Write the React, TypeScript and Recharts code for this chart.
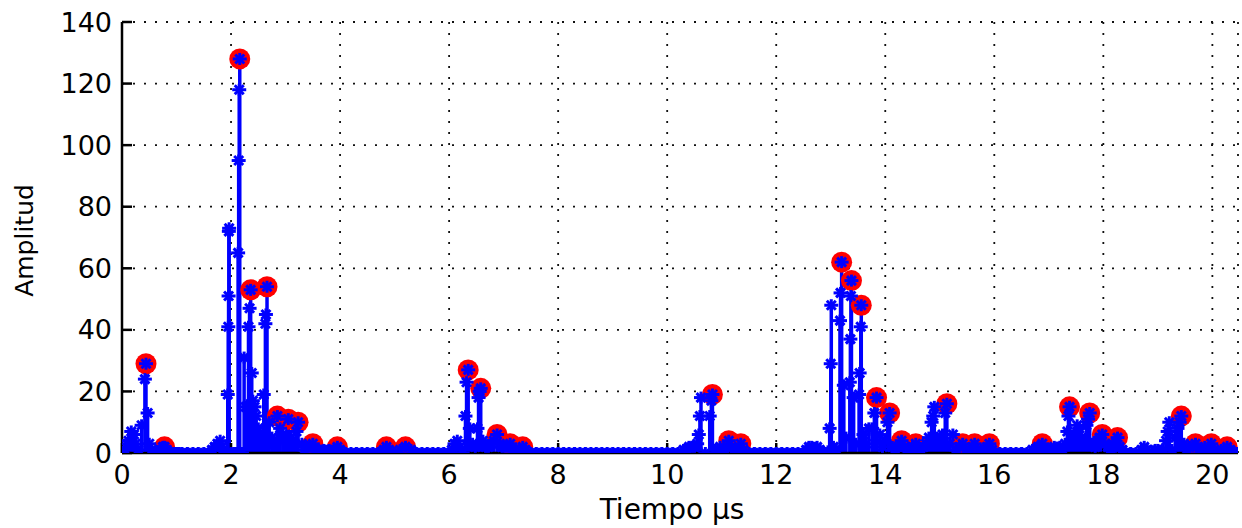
import { ScatterChart, Scatter, XAxis, YAxis, CartesianGrid, ErrorBar } from "recharts";

// muestras (tiempo en µs, amplitud)
const tiempo = [
  0, 0.05, 0.1, 0.12, 0.17, 0.22, 0.25, 0.3, 0.36, 0.42, 0.44, 0.47, 0.5, 0.55, 0.6, 0.65, 0.7, 0.75, 0.78, 0.82, 0.86, 0.9, 0.95,
  1, 1.05, 1.1, 1.2, 1.3, 1.4, 1.5, 1.6, 1.65, 1.7, 1.75, 1.8, 1.83, 1.87, 1.9, 1.94, 1.95, 1.955, 1.96, 1.965,
  2.0, 2.05, 2.1, 2.13, 2.14, 2.15, 2.16, 2.2, 2.24, 2.27, 2.32, 2.34, 2.36, 2.38, 2.4, 2.43, 2.46, 2.5, 2.55, 2.6, 2.63, 2.64, 2.66, 2.7, 2.75, 2.8, 2.85, 2.9, 2.95,
  3.0, 3.05, 3.1, 3.15, 3.2, 3.23, 3.3, 3.35, 3.4, 3.45, 3.5, 3.55, 3.6, 3.7, 3.8, 3.9, 3.95,
  4.0, 4.1, 4.2, 4.3, 4.4, 4.5, 4.6, 4.7, 4.8, 4.85, 4.9,
  5.0, 5.1, 5.2, 5.3, 5.4, 5.5, 5.6, 5.7, 5.8, 5.9,
  6.0, 6.05, 6.1, 6.15, 6.2, 6.25, 6.3, 6.32, 6.35, 6.38, 6.43, 6.48, 6.52, 6.54, 6.56, 6.58, 6.62, 6.67, 6.72, 6.77, 6.82, 6.88, 6.93, 6.97,
  7.02, 7.07, 7.12, 7.17, 7.22, 7.28, 7.35, 7.4, 7.5, 7.6, 7.7, 7.8, 7.9,
  8.0, 8.1, 8.2, 8.3, 8.4, 8.5, 8.6, 8.7, 8.8, 8.9,
  9.0, 9.1, 9.2, 9.3, 9.4, 9.5, 9.6, 9.7, 9.8, 9.9,
  10.0, 10.1, 10.2, 10.3, 10.35, 10.4, 10.45, 10.5, 10.55, 10.58, 10.6, 10.62, 10.7, 10.78, 10.81, 10.83, 10.88, 10.93, 10.97,
  11.0, 11.05, 11.1, 11.13, 11.18, 11.23, 11.28, 11.35, 11.4, 11.5, 11.6, 11.7, 11.8, 11.9,
  12.0, 12.1, 12.2, 12.3, 12.4, 12.5, 12.55, 12.6, 12.65, 12.7, 12.75, 12.8, 12.85, 12.9, 12.95, 12.98, 13.0,
  13.01, 13.05, 13.1, 13.17, 13.18, 13.2, 13.24, 13.28, 13.35, 13.36, 13.37, 13.38, 13.42, 13.46, 13.52, 13.53, 13.55, 13.56, 13.6, 13.65, 13.7, 13.76, 13.8, 13.84, 13.9, 13.95, 13.99,
  14.04, 14.08, 14.13, 14.18, 14.24, 14.3, 14.35, 14.4, 14.45, 14.5, 14.56, 14.6, 14.65, 14.7, 14.75, 14.8, 14.85, 14.88, 14.9, 14.95, 15.0,
  15.05, 15.1, 15.13, 15.18, 15.24, 15.3, 15.36, 15.42, 15.48, 15.54, 15.6, 15.64, 15.7, 15.76, 15.82, 15.87, 15.91, 15.96,
  16.0, 16.1, 16.2, 16.3, 16.4, 16.5, 16.6, 16.7, 16.75, 16.8, 16.84, 16.88, 16.93, 16.98,
  17.0, 17.05, 17.1, 17.15, 17.2, 17.25, 17.3, 17.34, 17.36, 17.38, 17.42, 17.47, 17.52, 17.56, 17.6, 17.65, 17.69, 17.72, 17.75, 17.8, 17.85, 17.9, 17.93, 17.98,
  18.03, 18.08, 18.13, 18.17, 18.22, 18.26, 18.3, 18.35, 18.4, 18.5, 18.6, 18.7, 18.75, 18.8, 18.9, 18.95,
  19.0, 19.05, 19.1, 19.15, 19.18, 19.21, 19.26, 19.32, 19.36, 19.4, 19.43, 19.48, 19.53, 19.58, 19.64, 19.69, 19.75, 19.8, 19.86, 19.92, 19.98, 20.04, 20.1, 20.16, 20.22, 20.27, 20.33, 20.4, 20.45,
];

const amplitud = [
  0, 1, 3, 4, 7, 6, 3, 1, 9, 24, 29, 13, 3, 1, 0, 0, 1, 2, 2, 1, 0, 0, 0,
  0, 0, 0, 0, 0, 0, 0, 0, 1, 2, 3, 4, 2, 1, 0, 19, 41, 51, 72, 73,
  0, 0, 0, 65, 95, 118, 128, 0, 31, 15, 41, 47, 53, 26, 17, 15, 12, 8, 5, 19, 42, 45, 54, 10, 5, 3, 12, 8, 6,
  5, 11, 5, 3, 7, 10, 3, 1, 2, 2, 3, 1, 1, 1, 1, 1, 2,
  1, 0, 0, 0, 0, 0, 0, 0, 1, 2, 1,
  0, 1, 2, 1, 0, 0, 0, 0, 0, 0,
  0, 1, 3, 4, 2, 0, 12, 23, 27, 8, 3, 2, 8, 18, 20, 21, 4, 2, 2, 3, 4, 6, 3, 2,
  2, 2, 3, 1, 1, 1, 2, 1, 0, 0, 0, 0, 0,
  0, 0, 0, 0, 0, 0, 0, 0, 0, 0,
  0, 0, 0, 0, 0, 0, 0, 0, 0, 0,
  0, 0, 0, 1, 1, 2, 2, 2, 3, 6, 12, 18, 0, 12, 17, 19, 1, 1, 2,
  1, 1, 2, 4, 2, 1, 1, 3, 1, 0, 0, 0, 0, 0,
  0, 0, 0, 0, 0, 0, 1, 2, 2, 1, 2, 1, 0, 0, 0, 8, 29,
  48, 2, 1, 43, 52, 62, 22, 5, 23, 37, 51, 56, 18, 3, 19, 26, 41, 48, 6, 3, 8, 8, 13, 18, 6, 2, 4,
  10, 13, 2, 1, 2, 4, 2, 1, 1, 2, 3, 1, 1, 2, 3, 5, 10, 12, 15, 5, 3,
  6, 13, 16, 3, 6, 1, 2, 3, 1, 1, 2, 3, 1, 1, 1, 2, 3, 1,
  0, 0, 0, 0, 0, 0, 0, 1, 1, 2, 2, 3, 1, 1,
  1, 1, 2, 1, 2, 1, 3, 7, 12, 15, 4, 6, 9, 8, 5, 4, 9, 11, 13, 3, 2, 4, 5, 6,
  3, 2, 1, 3, 2, 5, 2, 1, 0, 0, 0, 1, 2, 1, 0, 1,
  1, 0, 1, 4, 7, 10, 1, 5, 8, 10, 12, 3, 1, 2, 2, 3, 1, 1, 2, 1, 3, 1, 0, 1, 1, 2, 1, 0, 0,
];

// picos detectados (círculos rojos)
const picoTiempo = [
  0.44, 0.78, 2.16, 2.36, 2.66, 2.85, 3.05, 3.23, 3.5, 3.95, 4.85, 5.2, 6.35, 6.58, 6.88, 7.12, 7.35,
  10.83, 11.13, 11.35, 13.2, 13.38, 13.56, 13.84, 14.08, 14.3, 14.56, 15.13, 15.42, 15.64, 15.91,
  16.88, 17.38, 17.75, 17.98, 18.26, 19.43, 19.69, 19.98, 20.27,
];
const picoAmplitud = [
  29, 2, 128, 53, 54, 12, 11, 10, 3, 2, 2, 2, 27, 21, 6, 3, 2,
  19, 4, 3, 62, 56, 48, 18, 13, 4, 3, 16, 3, 3, 3,
  3, 15, 13, 6, 5, 12, 3, 3, 2,
];

const ticksX = [0, 2, 4, 6, 8, 10, 12, 14, 16, 18, 20];
const ticksY = [0, 20, 40, 60, 80, 100, 120, 140];

const muestras = tiempo.map((t, i) => ({ t, a: amplitud[i], tallo: [amplitud[i], 0] }));
const picos = picoTiempo.map((t, i) => ({ t, a: picoAmplitud[i] }));

const fuente = "'DejaVu Sans', sans-serif";
const azul = "#0000ff";

// marcador '*' de matlab, algo engordado
const Asterisco = (props: any) => {
  const { cx, cy } = props;
  return (
    <g stroke={azul} strokeWidth={3}>
      <line x1={cx - 7} y1={cy} x2={cx + 7} y2={cy} />
      <line x1={cx} y1={cy - 6} x2={cx} y2={cy + 6} />
      <line x1={cx - 4.5} y1={cy - 4.5} x2={cx + 4.5} y2={cy + 4.5} />
      <line x1={cx - 4.5} y1={cy + 4.5} x2={cx + 4.5} y2={cy - 4.5} />
      <polygon points={`${cx - 4},${cy} ${cx},${cy - 4} ${cx + 4},${cy} ${cx},${cy + 4}`} fill={azul} stroke="none" />
    </g>
  );
};

const Circulo = (props: any) => <circle cx={props.cx} cy={props.cy} r={10.5} fill="#ff0000" />;

const EtiquetaY = (props: any) => {
  const { viewBox } = props;
  const x = viewBox.x + 33;
  const y = viewBox.y + viewBox.height / 2 + 3;
  return (
    <text x={x} y={y} transform={`rotate(-90 ${x} ${y})`} textAnchor="middle" fontSize={25} fontFamily={fuente} fill="#000">
      Amplitud
    </text>
  );
};

const EtiquetaX = (props: any) => {
  const { viewBox } = props;
  return (
    <text x={viewBox.x + viewBox.width / 2 - 8} y={viewBox.y + 66} textAnchor="middle" fontSize={28} fontFamily={fuente} fill="#000">
      Tiempo µs
    </text>
  );
};

const linea = { stroke: "#000", strokeWidth: 2.5 };

export default function App() {
  return (
    <div style={{ position: "absolute", left: 0, top: 0, width: 1242, height: 528, background: "#fff" }}>
      <ScatterChart width={1242} height={528} margin={{ top: 22, right: 4, bottom: 0, left: 0 }}>
        <CartesianGrid stroke="#111" strokeWidth={1.8} strokeDasharray="2 9" />
        <XAxis
          dataKey="t"
          type="number"
          domain={[0, 20.47]}
          ticks={ticksX}
          allowDataOverflow
          height={75}
          tickSize={-10}
          tickMargin={22}
          axisLine={linea}
          tickLine={linea}
          tick={{ fill: "#000", fontSize: 27, fontFamily: fuente }}
          label={EtiquetaX}
        />
        <XAxis
          xAxisId="arriba"
          orientation="top"
          dataKey="t"
          type="number"
          domain={[0, 20.47]}
          ticks={ticksX}
          allowDataOverflow
          height={0}
          tickSize={-10}
          axisLine={linea}
          tickLine={linea}
          tick={false}
        />
        <YAxis
          dataKey="a"
          type="number"
          domain={[0, 140]}
          ticks={ticksY}
          allowDataOverflow
          width={122}
          tickSize={-10}
          tickMargin={20}
          axisLine={linea}
          tickLine={linea}
          tick={{ fill: "#000", fontSize: 27, fontFamily: fuente }}
          label={EtiquetaY}
        />
        <YAxis
          yAxisId="derecha"
          orientation="right"
          dataKey="a"
          type="number"
          domain={[0, 140]}
          ticks={ticksY}
          allowDataOverflow
          width={0}
          tickSize={-10}
          axisLine={linea}
          tickLine={linea}
          tick={false}
        />
        <Scatter data={picos} shape={Circulo} isAnimationActive={false} />
        <Scatter data={muestras} shape={Asterisco} isAnimationActive={false}>
          <ErrorBar dataKey="tallo" direction="y" width={0} stroke={azul} strokeWidth={3.5} isAnimationActive={false} />
        </Scatter>
      </ScatterChart>
    </div>
  );
}
